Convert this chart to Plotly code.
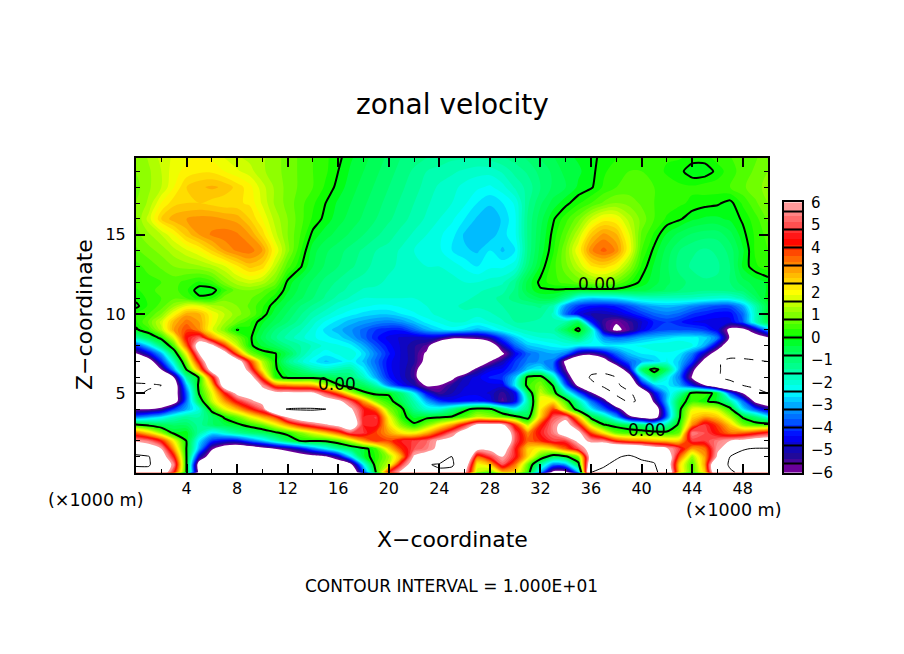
import plotly.graph_objects as go

x_km = list(range(0, 51))
z_km = [20, 19, 18, 17, 16, 15, 14, 13, 12, 11.5, 11, 10.5, 10, 9.5, 9, 8.5, 8, 7.5, 7, 6.5, 6, 5.5, 5, 4.5, 4,
        3.5, 3, 2.5, 2, 1.5, 1, 0.5, 0]

u_rows = [
 [1.0,1.3,1.6,1.8,1.9,2.0,1.9,1.7,1.5,1.4, 1.3,1.1,0.9,0.7,0.5,0.3,0.1,-0.2,-0.4,-0.6, -0.8,-1.0,-1.1,-1.2,-1.3,-1.4,-1.4,-1.4,-1.3,-1.2, -1.1,-0.9,-0.7,-0.5,-0.3,-0.2,-0.1,0.1,0.2,0.3, 0.4,0.4,0.3,0.3,0.2,0.2,0.4,0.5,0.6,0.7, 0.9],
 [1.0,1.2,1.5,1.9,2.1,2.2,2.2,2.0,1.8,1.6, 1.3,1.1,0.9,0.7,0.5,0.3,0.0,-0.3,-0.5,-0.7, -0.9,-1.1,-1.3,-1.5,-1.6,-1.7,-1.8,-1.9,-1.9,-1.7, -1.4,-1.2,-0.9,-0.7,-0.4,-0.3,-0.1,0.2,0.4,0.5, 0.5,0.4,0.2,0.1,-0.2,-0.2,0.1,0.4,0.6,0.8, 1.0],
 [0.9,1.2,1.5,2.0,2.5,2.7,2.8,2.7,2.4,2.1, 1.6,1.2,0.9,0.7,0.5,0.2,-0.1,-0.4,-0.6,-0.8, -1.0,-1.2,-1.4,-1.6,-1.8,-1.9,-2.1,-2.2,-2.3,-2.1, -1.7,-1.4,-1.0,-0.7,-0.5,-0.2,-0.05,0.3,0.5,0.6, 0.6,0.5,0.4,0.3,0.3,0.4,0.4,0.5,0.7,0.9, 1.1],
 [1.0,1.3,2.0,2.4,2.5,2.5,2.4,2.3,2.3,2.2, 1.7,1.2,0.9,0.6,0.3,0.0,-0.3,-0.5,-0.7,-0.9, -1.1,-1.3,-1.5,-1.7,-1.9,-2.0,-2.2,-2.5,-2.7,-2.5, -2.2,-1.3,-0.8,-0.4,-0.1,0.2,0.5,0.8,1.0,0.9, 0.7,0.5,0.4,0.3,0.2,0.1,0.05,-0.1,0.3,0.7, 1.0],
 [1.0,1.6,2.5,2.9,3.0,3.1,3.1,3.0,2.9,2.5, 2.0,1.4,1.0,0.6,0.2,-0.1,-0.4,-0.6,-0.8,-1.0, -1.2,-1.4,-1.6,-1.8,-2.0,-2.2,-2.5,-2.8,-3.0,-2.7, -2.3,-1.2,-0.6,-0.05,0.4,0.9,1.6,2.1,2.0,1.4, 0.9,0.5,0.2,0.05,-0.2,-0.3,-0.3,-0.2,0.05,0.4, 0.8],
 [0.9,1.2,1.5,2.0,2.6,3.0,3.3,3.4,3.3,3.0, 2.4,1.6,1.0,0.5,-0.1,-0.4,-0.6,-0.8,-1.0,-1.2, -1.4,-1.6,-1.8,-2.0,-2.2,-2.4,-2.8,-3.0,-2.9,-2.6, -2.3,-1.2,-0.5,0.1,0.7,1.5,2.6,3.1,2.8,1.8, 0.7,0.2,-0.3,-0.6,-0.8,-0.9,-0.9,-0.6,-0.1,0.3, 0.6],
 [0.7,0.9,1.1,1.4,1.7,2.0,2.5,3.0,3.3,3.4, 3.0,2.0,1.1,0.3,-0.4,-0.7,-0.9,-1.1,-1.3,-1.5, -1.6,-1.8,-2.0,-2.1,-2.2,-2.5,-2.7,-2.8,-2.5,-2.8, -2.5,-1.2,-0.4,0.2,1.0,2.0,3.2,3.6,3.2,2.0, 0.5,-0.1,-0.6,-1.0,-1.2,-1.3,-1.2,-0.9,-0.3,0.3, 0.5],
 [0.4,0.6,0.8,1.0,1.1,1.2,1.4,1.7,2.2,2.6, 2.4,1.5,0.6,0.05,-0.5,-0.8,-1.0,-1.2,-1.4,-1.6, -1.7,-1.8,-1.9,-2.0,-2.0,-2.1,-2.3,-2.5,-2.3,-2.3, -2.1,-1.0,-0.2,0.4,0.9,1.5,2.2,2.4,2.0,1.2, 0.2,-0.3,-0.7,-1.1,-1.3,-1.4,-1.3,-1.0,-0.2,0.2, 0.4],
 [0.4,0.4,0.5,0.6,0.4,0.2,0.4,1.0,1.4,1.6, 1.4,0.9,-0.1,-0.5,-0.8,-1.1,-1.3,-1.5,-1.6,-1.7, -1.8,-1.9,-1.9,-1.9,-1.9,-1.9,-2.0,-2.0,-1.9,-1.8, -1.3,-0.4,0.1,0.4,0.6,0.8,1.0,1.1,0.8,0.3, -0.1,-0.4,-0.7,-0.9,-1.1,-1.2,-1.2,-1.0,-0.6,-0.4, -0.2],
 [0.2,0.4,0.6,0.6,0.3,-0.2,-0.2,0.4,0.9,1.0, 0.8,0.4,-0.2,-0.6,-0.9,-1.2,-1.4,-1.6,-1.8,-1.8, -1.9,-1.9,-1.9,-1.9,-1.9,-1.9,-1.9,-1.8,-1.7,-1.6, -1.2,-0.4,-0.05,-0.05,-0.1,-0.2,-0.2,-0.2,-0.2,-0.3, -0.4,-0.6,-0.8,-1.0,-1.1,-1.2,-1.2,-1.1,-0.9,-0.5, -0.2],
 [0.1,0.3,0.5,0.7,0.5,0.1,0.2,0.9,1.0,0.8, 0.5,0.1,-0.4,-0.7,-1.0,-1.3,-1.6,-1.8,-2.0,-2.0, -2.0,-2.0,-2.0,-1.9,-1.9,-1.9,-1.8,-1.7,-1.6,-1.4, -1.1,-0.8,-0.5,-0.5,-1.2,-2.4,-2.7,-2.6,-2.5,-2.2, -1.9,-1.8,-1.8,-1.8,-1.8,-1.9,-2.0,-2.0,-1.6,-0.8, -0.1],
 [-0.1,0.3,0.6,1.2,1.8,1.8,1.4,1.2,1.0,0.7, 0.3,-0.2,-0.6,-1.0,-1.3,-1.6,-1.9,-2.1,-2.2,-2.3, -2.3,-2.2,-2.1,-2.0,-1.9,-1.8,-1.7,-1.7,-1.6,-1.5, -1.4,-1.3,-1.2,-1.6,-3.2,-4.0,-4.3,-4.4,-4.2,-3.8, -3.3,-3.0,-2.9,-3.0,-3.3,-3.6,-3.8,-3.8,-3.0,-1.6, -0.4],
 [0.3,0.5,1.0,2.0,2.9,2.8,2.0,1.5,1.1,0.8, 0.2,-0.4,-0.8,-1.2,-1.6,-1.9,-2.2,-2.4,-2.6,-2.7, -2.7,-2.5,-2.3,-2.1,-1.9,-1.8,-1.8,-1.9,-1.8,-1.6, -1.4,-1.3,-1.4,-1.8,-3.6,-4.6,-5.0,-5.0,-4.8,-4.4, -4.0,-3.6,-3.4,-3.6,-4.0,-4.2,-4.4,-4.4,-3.6,-1.8, -0.2],
 [0.2,0.8,1.6,2.8,3.4,3.0,2.0,1.3,0.8,0.3, -0.2,-0.6,-1.0,-1.4,-1.9,-2.3,-2.6,-2.9,-3.1,-3.3, -3.4,-3.2,-2.8,-2.4,-2.2,-2.0,-2.0,-2.2,-2.0,-1.8, -1.5,-1.5,-1.6,-1.7,-1.5,-0.6,-4.2,-5.4,-5.9,-5.4, -4.8,-4.2,-4.0,-4.2,-4.5,-4.6,-4.6,-4.6,-3.8,-1.8, -0.5],
 [-0.1,0.4,1.4,3.0,3.8,3.2,1.8,1.0,-0.02,0.2, -0.4,-1.0,-1.4,-1.7,-2.1,-2.6,-2.9,-3.2,-3.6,-4.0, -4.2,-4.2,-3.6,-3.0,-2.6,-2.4,-2.6,-2.9,-2.6,-2.2, -1.9,-1.7,-1.6,-1.6,-0.6,0.2,-1.6,-5.2,-6.3,-5.6, -4.6,-4.0,-3.8,-3.8,-3.8,-4.0,-4.6,-6.4,-6.5,-5.0, -3.0],
 [-1.5,-0.6,0.2,1.8,4.4,5.2,3.2,1.8,1.0,0.1, -0.6,-1.2,-1.6,-1.9,-2.2,-2.4,-2.6,-3.0,-3.6,-4.2, -4.6,-4.8,-4.9,-4.8,-5.0,-5.8,-5.8,-5.6,-5.0,-3.8, -2.8,-2.2,-2.0,-1.9,-1.6,-1.0,-2.0,-3.2,-3.6,-3.4, -3.0,-2.8,-2.6,-2.4,-2.4,-2.6,-3.4,-6.2,-8.0,-7.0, -6.2],
 [-4.0,-2.6,-1.0,0.6,3.6,7.0,6.5,4.0,1.6,0.1, -0.3,-0.7,-1.2,-1.5,-1.8,-2.1,-2.2,-2.4,-3.0,-3.8, -4.4,-4.8,-5.2,-5.6,-7.5,-8.0,-8.0,-8.0,-7.2,-5.0, -3.6,-2.8,-2.6,-2.4,-2.2,-2.4,-2.4,-2.4,-2.4,-2.3, -2.2,-2.0,-2.0,-2.0,-2.2,-3.0,-5.0,-7.5,-8.4,-8.6, -8.4],
 [-6.1,-4.6,-3.0,-0.6,2.0,6.0,7.5,7.0,3.6,1.0, 0.2,0.05,-0.6,-1.5,-2.1,-2.4,-2.2,-2.0,-2.6,-3.4, -4.2,-4.8,-5.2,-6.2,-9.0,-9.0,-9.0,-9.0,-8.0,-6.2, -4.5,-3.6,-3.2,-3.0,-3.4,-5.2,-5.6,-4.8,-3.6,-2.8, -2.5,-2.4,-2.3,-2.5,-3.4,-5.0,-7.0,-8.6,-9.0,-9.2, -9.2],
 [-8.0,-7.0,-4.2,-1.8,1.0,4.5,8.0,8.0,7.2,4.0, 1.4,0.1,-1.2,-1.9,-2.4,-2.8,-2.6,-2.3,-2.8,-3.6, -4.4,-4.8,-5.2,-6.4,-9.5,-10,-9.5,-8.2,-6.0,-5.0, -4.0,-3.4,-3.2,-3.4,-6.4,-8.0,-8.0,-7.0,-4.8,-3.6, -3.0,-2.8,-2.2,-2.8,-4.0,-6.6,-9.6,-11,-10.6,-10.2, -10],
 [-8.0,-7.6,-6.0,-3.0,0.05,3.0,7.0,8.4,8.0,5.2, 2.0,0.1,-0.5,-1.0,-1.6,-1.8,-1.6,-1.5,-2.4,-3.4, -4.4,-4.8,-5.4,-7.6,-9.4,-9.0,-7.6,-5.4,-4.6,-4.4, -3.8,-2.8,-2.4,-3.4,-5.8,-8.6,-9.2,-9.0,-7.6,-4.8, -0.8,0.4,-0.8,-3.0,-5.4,-8.4,-9.8,-10.6,-10.8,-10.8, -10.6],
 [-9,-8.4,-7.4,-6.0,-1.5,0.1,4.0,7.8,8.2,7.0, 3.8,0.3,-0.2,-0.2,-0.2,-0.5,-0.8,-1.0,-1.8,-3.0, -4.2,-4.8,-5.4,-8.0,-8.5,-6.4,-5.0,-4.6,-4.2,-4.0, -2.8,0.3,0.5,-1.6,-4.8,-7.6,-10.4,-11,-10,-7.0, -2.8,-0.8,-2.2,-3.4,-6.2,-8.0,-9.8,-10.6,-11,-11, -11],
 [-10.4,-10.4,-10,-7.2,-2.8,0.3,2.5,7.2,8.5,7.5, 5.8,3.6,3.2,3.0,2.8,1.6,0.1,-0.5,-0.7,-1.6, -3.4,-4.4,-5.0,-6.2,-6.0,-5.2,-4.8,-4.6,-4.6,-4.6, -2.4,0.4,1.0,-0.05,-3.6,-6.4,-9.0,-10.6,-10.6,-8.6, -4.8,-2.8,-2.4,-3.0,-4.4,-6.0,-8.0,-9.0,-10,-10.6, -10.8],
 [-10.4,-9.6,-8.8,-7.0,-3.6,0.1,1.8,4.2,6.4,7.0, 6.6,6.6,6.5,6.4,6.3,5.0,3.6,1.6,0.2,-0.2, -0.1,-1.0,-2.4,-4.4,-5.4,-5.0,-4.6,-4.6,-4.8,-5.4, -4.6,-0.8,1.6,0.5,-1.6,-3.6,-5.6,-8.0,-10.5,-10.6, -8.0,-4.6,-2.8,-1.5,0.3,0.4,-0.3,-3.8,-6.0,-9.0, -10],
 [-8.6,-8.6,-8.2,-7.0,-3.5,-0.6,1.5,3,4.5,5.6, 6.6,7,7.5,7.5,7.2,7,6.4,5,3,1, 0.3,-0.6,-1.6,-3,-4,-4.4,-4.3,-4.2,-4.5,-5.6, -4.6,-1.5,2.0,2.2,0.5,-1.6,-3.5,-5,-8.6,-10.4, -9.6,-5.6,-2.8,-0.4,0.4,0.1,-0.3,-1.5,-3.5,-6.4, -7.5],
 [-6,-6,-5.5,-4,-3,-2,0.4,1.8,2.8,4, 5.2,9,10.15,10.3,10.3,10.05,7.4,6.2,4.5,3.5, 1,0.2,-1.2,-2,-2,-1.2,-0.2,0.3,0.2,-1, -2.2,-1.2,2.2,3.8,1.5,-0.6,-2.4,-3.6,-5,-7.6, -9,-7.5,-3.4,-0.2,1.8,1.8,1.5,0.3,-2.5,-3.8, -5],
 [-3.5,-3,-2.5,-1.8,-1.4,-1.5,-0.8,0.1,0.8,1.8, 2.8,3.8,6.2,7.4,8,8,8,7,4.5,4.8, 2,0.2,-0.3,-0.2,-0.1,0.1,0.6,1.5,1.2,0.8, 0.3,-0.4,2.5,5,5.5,2.5,-0.3,-1.4,-3,-5.5, -6.6,-7,-3.5,-0.1,2.4,3,2.6,1.4,-0.1,-1, -2.2],
 [0.2,-0.2,-0.6,-0.8,-0.8,-1.4,-0.8,-0.5,-0.2,0.3, 0.8,1.8,3,4.2,5,5.8,6.5,7.5,4.5,4.6, 2.4,1,0.1,1,2,3,4.6,6.4,6.6,6.4, 4,1.5,4,5.5,6.8,4.6,1.6,0.1,-0.3,-0.6, -1,-1.8,-1.4,0.3,3.2,4.8,3.8,2.6,1,0.5, 0.5],
 [3.5,2.5,1.2,-0.2,-0.1,-1.5,-2.5,-2,-1.4,-1, -0.7,-0.2,0.3,1,1.8,2.6,3.6,5,4.8,3.8, 3,2.2,2,2.8,4,5.4,7,8,8,8, 5,3.2,4.5,5.4,7,6.5,3.8,2.2,0.8,0.5, 0.5,0.4,0.3,0.8,5.5,5,4.2,3.4,3.5,4, 4.6],
 [5.8,5.4,4.2,2,-0.05,-2.5,-4,-4.5,-4.5,-3.6, -2.8,-1.8,-0.8,0.05,0.1,0.1,0.6,1.6,3,4, 3.8,4.5,4.8,5.2,6.2,6.6,8,9,9,8.5, 5,3.5,4,4.8,4.8,6.4,5.8,5.5,4,3.4, 3.2,2.8,2.6,2.6,4.8,4.8,5.4,6,6.4,7, 7.2],
 [7.5,7,6,3,-0.05,-3,-5.8,-7,-7.5,-7.2, -6.6,-6,-5.4,-4.6,-3.4,-2.4,-1.4,-0.8,-0.3,0.5, 2.5,4,5,5.4,6.4,7.5,8,6.5,6.4,7, 4.5,2.5,2,2.4,3.6,5,6.8,8,8.6,8.6, 8,7,6.2,4.8,3,3.4,5.8,6.6,9.8,10.2, 10.2],
 [10.8,10.2,7,4.4,-0.02,-4.8,-7,-8.5,-9,-9, -8.6,-8,-7.6,-7,-6.6,-6.2,-5,-2.6,-0.3,0.3, 1.2,3,6.2,7,8,10.05,9,3.6,4.8,6, 4.5,2.4,0.6,-0.6,-0.2,1,7,9,9.8,10.3, 9.6,9.3,7.5,3.6,1.2,3,6.2,10,10.8,11, 11],
 [10.3,10.3,8,5.5,-0.02,-7,-9,-9.5,-9.5,-9.5, -9.5,-9.5,-9.2,-9,-8.6,-8.2,-7.6,-6.4,-2.4,0.5, 1.5,4.8,7,9.8,10.3,10.4,7.5,2,2.6,5, 3.4,0.8,-1.4,-3.4,-3,-0.4,8,9.8,10.4,10.6, 10.6,10.2,7.5,2.4,0.5,3,9,10.2,11,11.2, 11],
 [9,9,7.5,4.5,-0.02,-6.5,-8.5,-9,-9,-9, -9,-9,-9,-9,-9,-8.8,-8.6,-8,-4,0.1, 4.5,6.5,7.5,9,9.6,9,6.4,1.5,0.8,2.6, 2.5,0.5,-3,-6.5,-6.5,-3,10.1,10.4,10.6,10.6, 10.6,10.6,8.5,2.5,0.6,2.5,8.5,9.8,10.3,11, 11],
]

level_values = [-5.8, -5.2, -4.4, -3.6, -3.0, -2.4, -1.9, -1.2, -0.4, 0.0, 0.4, 1.2, 2.0, 2.7, 3.5, 4.3, 5.0, 5.7]
level_colors = ["#700099", "#1a0a99", "#0000ff", "#0066ff", "#00aaff", "#00ffff", "#00ffcc", "#00ff88", "#00ff44",
                "#00ff00", "#33ff00", "#99ff00", "#ffff00", "#ffc000", "#ff6a00", "#ff0000", "#ff5050", "#ff9999"]
bar_edges = [5.6, 4.8, 4.0, 3.2, 2.4, 1.6, 0.8, 0.0, -0.8, -1.6, -2.4, -3.2, -4.0, -4.8, -5.6]
bar_values = [v / 4 for v in range(-24, 25)]
bar_ticks = list(range(-6, 7))
x_ticks = list(range(4, 49, 4))
z_ticks = [5, 10, 15]

FONT = "DejaVu Sans"
W, H, TOP = 904, 638, 8   # drawn page area observed from the rendered picture
FX = lambda px: px / W
FY = lambda py: 1 - (py - TOP) / H
cs, start, end = 0.25, -6.25, 6.25
lo, hi = start - cs / 2, end + cs / 2
P = lambda v: (v - lo) / (hi - lo)
fill_scale = [[0, "#ffffff"], [P(-6.02), "#ffffff"], [P(-5.98), level_colors[0]]]
fill_scale += [[P(v), c] for v, c in zip(level_values, level_colors)]
fill_scale += [[P(5.98), level_colors[-1]], [P(6.02), "#ffffff"], [1, "#ffffff"]]
B = lambda v: (v + 6) / 12
bar_scale = [[0, level_colors[0]]] + [[B(v), c] for v, c in zip(level_values, level_colors)] + [[1, level_colors[-1]]]

fig = go.Figure()
fig.add_trace(go.Contour(x=x_km, y=z_km, z=u_rows, autocontour=False, showscale=False, colorscale=fill_scale,
                         contours=dict(start=start, end=end, size=cs, coloring="fill"), line=dict(width=0),
                         hoverinfo="skip"))
for lev, w, dash in [(0, 2, "solid"), (10, 1, "solid"), (-10, 1, "dash")]:
    fig.add_trace(go.Contour(x=x_km, y=z_km, z=u_rows, autocontour=False, showscale=False,
                             contours=dict(start=lev, end=lev, size=1, coloring="none"),
                             line=dict(color="black", width=w, dash=dash, smoothing=0.6), hoverinfo="skip"))
fig.add_trace(go.Heatmap(x=[0], y=bar_values, z=[[v] for v in bar_values], colorscale=bar_scale, zmin=-6, zmax=6,
                         showscale=False, xaxis="x2", yaxis="y2", hoverinfo="skip"))

ax_common = dict(showline=True, linecolor="black", linewidth=2, mirror="allticks", ticks="inside", tickcolor="black",
                 tickwidth=2, showgrid=False, zeroline=False, tickfont=dict(family=FONT, size=16, color="black"))
fig.update_layout(
    width=904, height=654, margin=dict(l=0, r=0, t=0, b=0), paper_bgcolor="white", plot_bgcolor="white",
    showlegend=False,
    xaxis=dict(domain=[FX(136), FX(768)], range=[0, 50], tickmode="array", tickvals=x_ticks, ticklen=9,
               minor=dict(dtick=2, ticks="inside", ticklen=4, tickcolor="black", tickwidth=1), **ax_common),
    yaxis=dict(domain=[FY(473), FY(157)], range=[0, 19.87], tickmode="array", tickvals=z_ticks, ticklen=9,
               ticklabelstandoff=5,
               minor=dict(dtick=1, ticks="inside", ticklen=4, tickcolor="black", tickwidth=1), **ax_common),
    xaxis2=dict(domain=[FX(784), FX(802)], range=[-0.5, 0.5], anchor="y2", showticklabels=False, ticks="",
                showgrid=False, zeroline=False, showline=True, linecolor="black", linewidth=2, mirror=True),
    yaxis2=dict(domain=[FY(473), FY(202)], range=[-6, 6], anchor="x2", side="right", tickmode="array",
                tickvals=bar_ticks, ticks="", showgrid=False, zeroline=False, showline=True, linecolor="black",
                linewidth=2, mirror=True, ticklabelstandoff=4, tickfont=dict(family=FONT, size=15, color="black")),
    shapes=[dict(type="line", xref="x2", yref="y2", x0=-0.5, x1=0.5, y0=e, y1=e,
                 line=dict(color="black", width=2)) for e in bar_edges],
)
texts = [
    ("zonal velocity", 452, 104, 28, 0),
    ("X\u2212coordinate", 452, 540, 22, 0),
    ("Z\u2212coordinate", 84, 315, 22, -90),
    ("CONTOUR INTERVAL = 1.000E+01", 451, 587, 17, 0),
    ("(\u00d71000 m)", 95, 501, 17.5, 0),
    ("(\u00d71000 m)", 733, 511, 17.5, 0),
]
for t, px, py, size, ang in texts:
    fig.add_annotation(text=t, x=FX(px), y=FY(py), xref="paper", yref="paper", showarrow=False, textangle=ang,
                       xanchor="center", yanchor="middle", font=dict(family=FONT, size=size, color="black"))
label_x = [15.9, 36.5, 40.4]
label_z = [5.6, 11.9, 2.7]
for lx, lz in zip(label_x, label_z):
    fig.add_annotation(text="0.00", x=lx, y=lz, showarrow=False, font=dict(family=FONT, size=17, color="black"))

fig.write_html("out.html", config={"displayModeBar": False},
               post_script="document.body.style.margin='0';document.body.style.overflow='hidden';")
